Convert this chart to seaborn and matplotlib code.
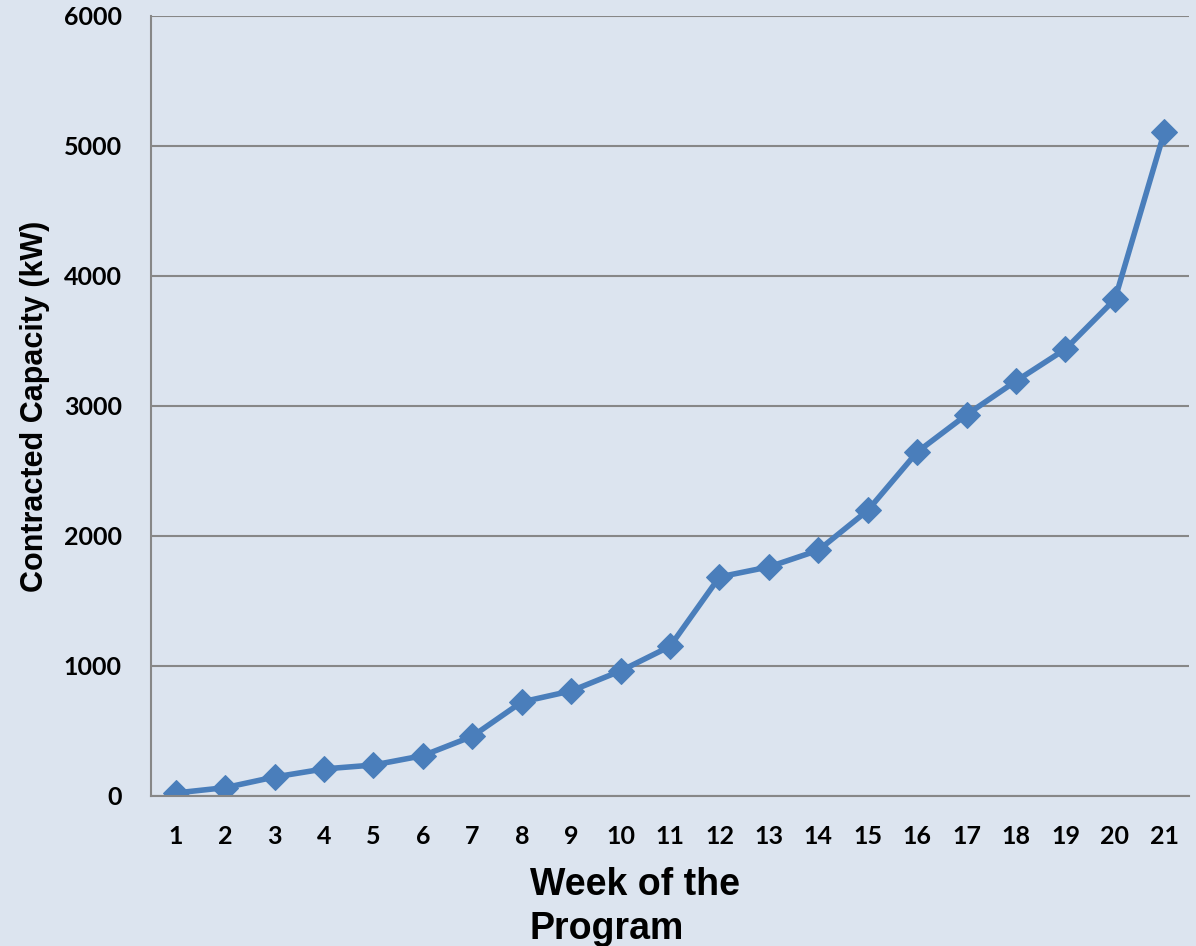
import matplotlib
matplotlib.use("Agg")
import matplotlib.pyplot as plt
import seaborn as sns
import pandas as pd
from matplotlib.ticker import FixedLocator

weeks = [str(i) for i in range(1, 22)]
capacity = [23, 64, 146, 208, 238, 310, 459, 723, 808, 962, 1151,
            1685, 1762, 1890, 2197, 2646, 2933, 3192, 3438, 3821, 5108]
y_ticks = [0, 1000, 2000, 3000, 4000, 5000, 6000]

bg = "#DCE4EF"
line_col = "#4A7EBB"
grid_col = "#878787"

sns.set_style("white", {"text.color": "black", "axes.labelcolor": "black",
                        "xtick.color": "black", "ytick.color": "black"})

df = pd.DataFrame({"pos": range(len(weeks)), "cap": capacity})

fig = plt.figure(figsize=(11.96, 9.46), dpi=100, facecolor=bg)
ax = fig.add_axes([0.1263, 0.1586, 0.8679, 0.8245])
ax.set_facecolor(bg)

sns.lineplot(data=df, x="pos", y="cap", ax=ax, color=line_col, linewidth=4,
             marker="D", markersize=13, markeredgecolor=line_col)

ax.set_xlim(-0.5, len(weeks) - 0.5)
ax.set_ylim(0, 6000)
ax.set_yticks(y_ticks)
ax.set_yticklabels([str(v) for v in y_ticks], fontfamily="Lato",
                   fontweight="bold", fontsize=18)
ax.set_xticks(range(len(weeks)))
ax.set_xticklabels(weeks, fontfamily="Lato", fontweight="bold", fontsize=18)
ax.xaxis.set_minor_locator(FixedLocator([i - 0.5 for i in range(len(weeks) + 1)]))
ax.tick_params(axis="x", which="major", length=0, pad=21, labelcolor="black")
ax.tick_params(axis="x", which="minor", length=7, width=1.5, color=grid_col)
ax.tick_params(axis="y", which="major", length=7, width=1.5, color=grid_col,
               direction="out", pad=14, labelcolor="black")

ax.grid(axis="y", color=grid_col, linewidth=1.5)
ax.set_axisbelow(True)
for s in ["top", "right"]:
    ax.spines[s].set_visible(False)
for s in ["left", "bottom"]:
    ax.spines[s].set_color(grid_col)
    ax.spines[s].set_linewidth(1.5)

ax.set_xlabel("Week of the\nProgram", fontfamily="Liberation Sans",
              fontweight="bold", fontsize=27, linespacing=1.3, color="black",
              multialignment="left")
ax.xaxis.set_label_coords(0.4658, -0.091)
ax.set_ylabel("Contracted Capacity (kW)", fontfamily="Liberation Sans",
              fontweight="bold", fontsize=22, color="black")
ax.yaxis.set_label_coords(-0.097, 0.5)

fig.savefig("out.png", dpi=100, facecolor=bg)
